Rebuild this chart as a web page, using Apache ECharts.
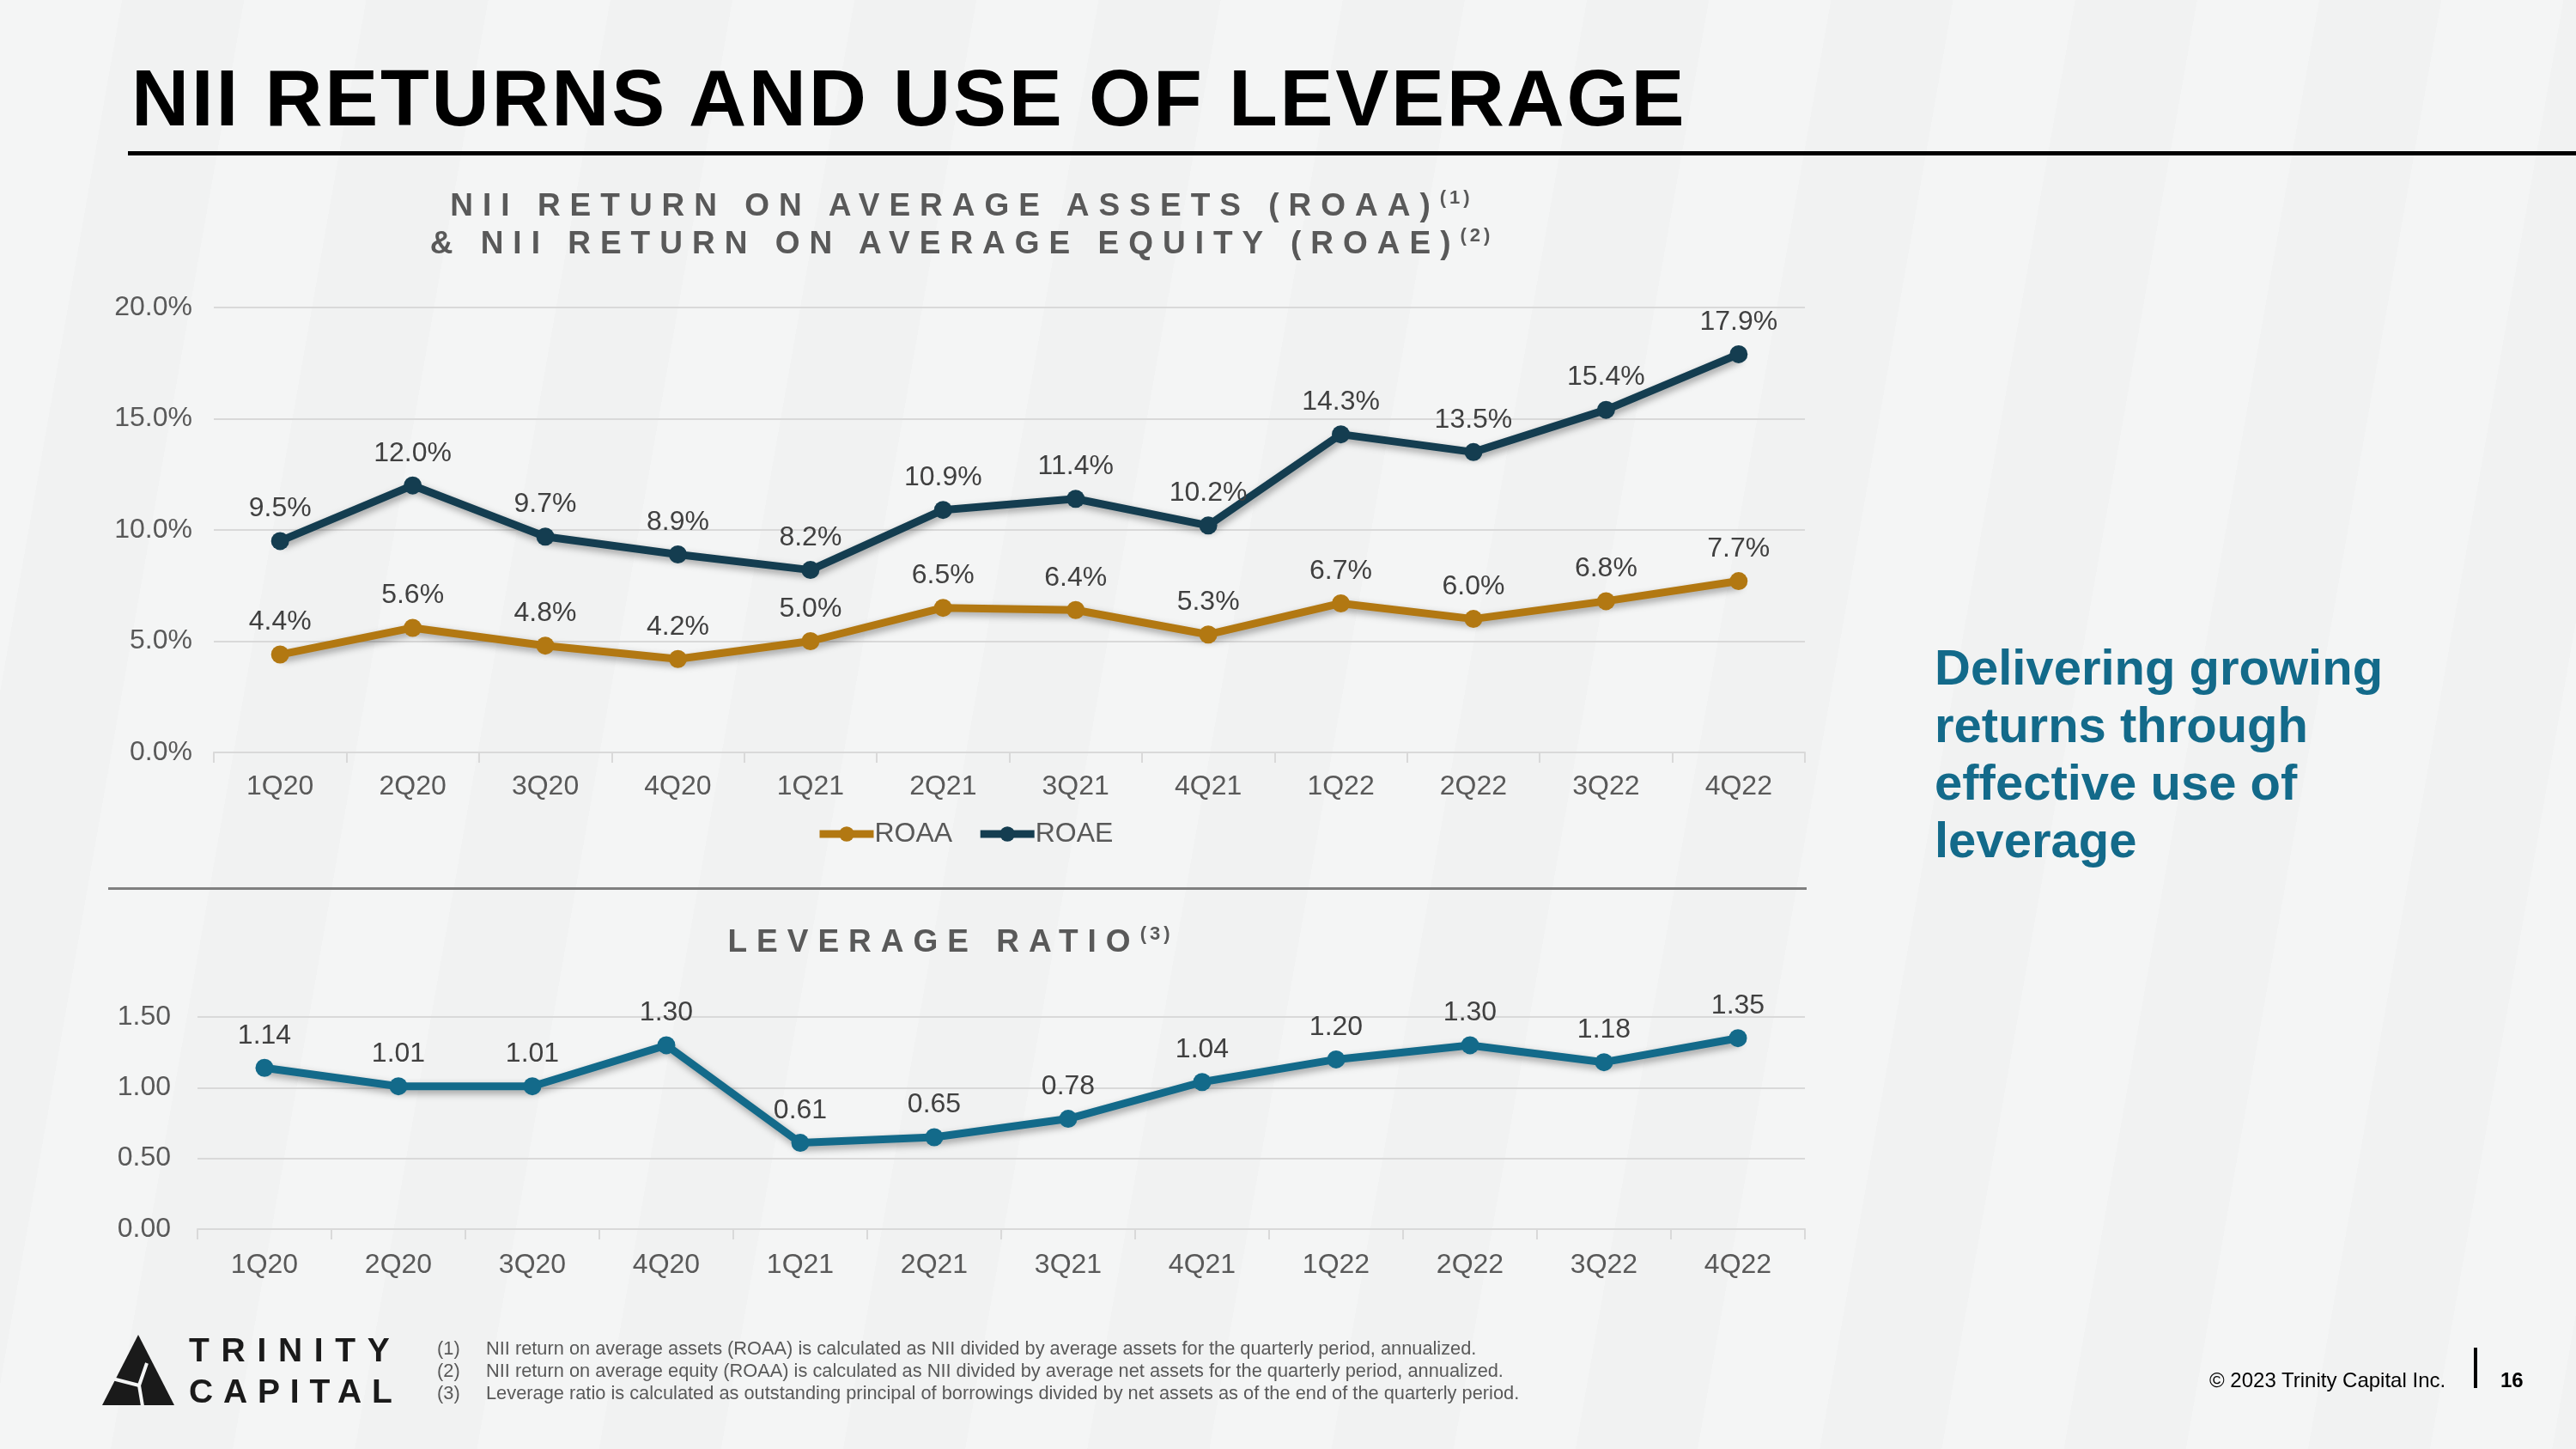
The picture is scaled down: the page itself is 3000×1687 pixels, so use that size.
<!DOCTYPE html>
<html style="height: 100%">

<head>
    <meta charset="utf-8">
    <style>
        body {
            margin: 0;
            width: 3000px;
            height: 1687px;
            position: relative;
            overflow: hidden;
            font-family: "Liberation Sans", Arial, sans-serif;
            background: repeating-linear-gradient(100deg, #f4f5f5 0px, #f4f5f5 140px, #f1f2f2 140px, #f1f2f2 280px);
        }

        .abs { position: absolute; }

        .ctitle {
            color: #595959;
            font-weight: bold;
            font-size: 37px;
            line-height: 44px;
            letter-spacing: 11px;
            text-align: center;
        }

        .ctitle sup {
            font-size: 22px;
            letter-spacing: 4px;
            vertical-align: 14px;
            line-height: 0;
        }

        .notes {
            color: #595959;
            font-size: 21.8px;
            line-height: 26px;
        }

        .notes span { display: inline-block; width: 57px; }
    </style>
</head>

<body>
    <div id="container" class="abs" style="left: 0; top: 0; width: 3000px; height: 1687px"></div>

    <!-- slide title -->
    <div class="abs" style="left: 153px; top: 68px; font-size: 93px; line-height: 93px; font-weight: bold; letter-spacing: 2.7px; color: #000; white-space: nowrap">NII RETURNS AND USE OF LEVERAGE</div>
    <div class="abs" style="left: 149px; top: 176px; width: 2851px; height: 5px; background: #000"></div>

    <!-- chart titles -->
    <div class="abs ctitle" style="left: 0; top: 217px; width: 2240px">NII RETURN ON AVERAGE ASSETS (ROAA)<sup>(1)</sup><br>&amp; NII RETURN ON AVERAGE EQUITY (ROAE)<sup>(2)</sup></div>
    <div class="abs" style="left: 126px; top: 1033px; width: 1978px; height: 3px; background: #808080"></div>
    <div class="abs ctitle" style="left: 0; top: 1074px; width: 2214px">LEVERAGE RATIO<sup>(3)</sup></div>

    <!-- side message -->
    <div class="abs" style="left: 2253px; top: 743px; font-size: 58px; line-height: 67px; font-weight: bold; color: #136a8a">Delivering growing<br>returns through<br>effective use of<br>leverage</div>

    <!-- logo -->
    <svg class="abs" style="left: 0; top: 1540px" width="220" height="110">
        <polygon points="161,14 119,96 203,96" fill="#1a1a1a" />
        <polyline points="127,64 162,73 171,47" stroke="#f4f5f5" stroke-width="4" fill="none" />
        <line x1="162" y1="73" x2="166" y2="97" stroke="#f4f5f5" stroke-width="4" />
    </svg>
    <div class="abs" style="left: 220px; top: 1552px; font-size: 39px; line-height: 39px; letter-spacing: 13.7px; color: #1a1a1a; font-weight: bold">TRINITY</div>
    <div class="abs" style="left: 220px; top: 1600px; font-size: 39px; line-height: 39px; letter-spacing: 11.8px; color: #1a1a1a; font-weight: bold">CAPITAL</div>

    <!-- footnotes -->
    <div class="abs notes" style="left: 509px; top: 1557px; white-space: nowrap">
        <div><span>(1)</span>NII return on average assets (ROAA) is calculated as NII divided by average assets for the quarterly period, annualized.</div>
        <div><span>(2)</span>NII return on average equity (ROAA) is calculated as NII divided by average net assets for the quarterly period, annualized.</div>
        <div><span>(3)</span>Leverage ratio is calculated as outstanding principal of borrowings divided by net assets as of the end of the quarterly period.</div>
    </div>

    <div class="abs" style="left: 2573px; top: 1593px; font-size: 24px; line-height: 28px; color: #000; white-space: nowrap">© 2023 Trinity Capital Inc.</div>
    <div class="abs" style="left: 2881px; top: 1569px; width: 4px; height: 47px; background: #000"></div>
    <div class="abs" style="left: 2912px; top: 1593px; font-size: 24px; line-height: 28px; color: #000; font-weight: bold">16</div>

    <script src="https://cdn.jsdelivr.net/npm/echarts@6/dist/echarts.min.js"></script>

    <script type="text/javascript">
        // 季度
        var quarters = ['1Q20', '2Q20', '3Q20', '4Q20', '1Q21', '2Q21', '3Q21', '4Q21', '1Q22', '2Q22', '3Q22', '4Q22'];
        // NII 收益率 (%)
        var roaa = [4.4, 5.6, 4.8, 4.2, 5.0, 6.5, 6.4, 5.3, 6.7, 6.0, 6.8, 7.7];
        var roae = [9.5, 12.0, 9.7, 8.9, 8.2, 10.9, 11.4, 10.2, 14.3, 13.5, 15.4, 17.9];
        // 杠杆率
        var leverage = [1.14, 1.01, 1.01, 1.30, 0.61, 0.65, 0.78, 1.04, 1.20, 1.30, 1.18, 1.35];

        var myChart = echarts.init(document.getElementById('container'), null, { renderer: 'canvas' });

        var textFont = { fontFamily: 'Liberation Sans, Arial, sans-serif', fontSize: 32 };
        var gridColor = '#d9d9d9';

        function catAxis(gridIndex, margin) {
            return {
                type: 'category',
                gridIndex: gridIndex,
                data: quarters,
                boundaryGap: true,
                axisLine: { lineStyle: { color: gridColor, width: 2 } },
                axisTick: { show: true, length: 12, lineStyle: { color: gridColor, width: 2 } },
                axisLabel: Object.assign({ color: '#595959', margin: margin }, textFont)
            };
        }

        function lineSeries(name, data, color, xi, digits, suffix) {
            return {
                name: name,
                type: 'line',
                xAxisIndex: xi,
                yAxisIndex: xi,
                data: data,
                symbol: 'circle',
                symbolSize: 21,
                itemStyle: { color: color },
                lineStyle: {
                    color: color,
                    width: 9,
                    shadowColor: 'rgba(0,0,0,0.35)',
                    shadowBlur: 8,
                    shadowOffsetX: 2,
                    shadowOffsetY: 4
                },
                label: Object.assign({
                    show: true,
                    position: 'top',
                    distance: 11,
                    color: '#404040',
                    formatter: function (p) {
                        return p.value.toFixed(digits) + suffix;
                    }
                }, textFont),
                animation: false
            };
        }

        var option = {
            backgroundColor: 'transparent',
            grid: [
                { left: 249, right: 898, top: 358, bottom: 811 },
                { left: 230, right: 898, top: 1184, bottom: 256 }
            ],
            legend: {
                data: ['ROAA', 'ROAE'],
                left: 945,
                top: 950,
                itemWidth: 63,
                itemHeight: 22,
                itemGap: 28,
                lineStyle: { width: 9, shadowBlur: 0, shadowOffsetX: 0, shadowOffsetY: 0 },
                textStyle: Object.assign({ color: '#595959', padding: [0, 0, 0, -4] }, textFont)
            },
            xAxis: [catAxis(0, 24), catAxis(1, 26)],
            yAxis: [
                {
                    type: 'value',
                    gridIndex: 0,
                    min: 0,
                    max: 20,
                    interval: 5,
                    axisLine: { show: false },
                    axisTick: { show: false },
                    splitLine: { lineStyle: { color: gridColor, width: 2 } },
                    axisLabel: Object.assign({
                        color: '#595959',
                        margin: 25,
                        formatter: function (v) { return v.toFixed(1) + '%'; }
                    }, textFont)
                },
                {
                    type: 'value',
                    gridIndex: 1,
                    min: 0,
                    max: 1.5,
                    interval: 0.5,
                    axisLine: { show: false },
                    axisTick: { show: false },
                    splitLine: { lineStyle: { color: gridColor, width: 2 } },
                    axisLabel: Object.assign({
                        color: '#595959',
                        margin: 31,
                        formatter: function (v) { return v.toFixed(2); }
                    }, textFont)
                }
            ],
            series: [
                lineSeries('ROAA', roaa, '#b27812', 0, 1, '%'),
                lineSeries('ROAE', roae, '#143d50', 0, 1, '%'),
                lineSeries('Leverage', leverage, '#136a8a', 1, 2, '')
            ]
        };

        myChart.setOption(option);
    </script>
</body>

</html>
